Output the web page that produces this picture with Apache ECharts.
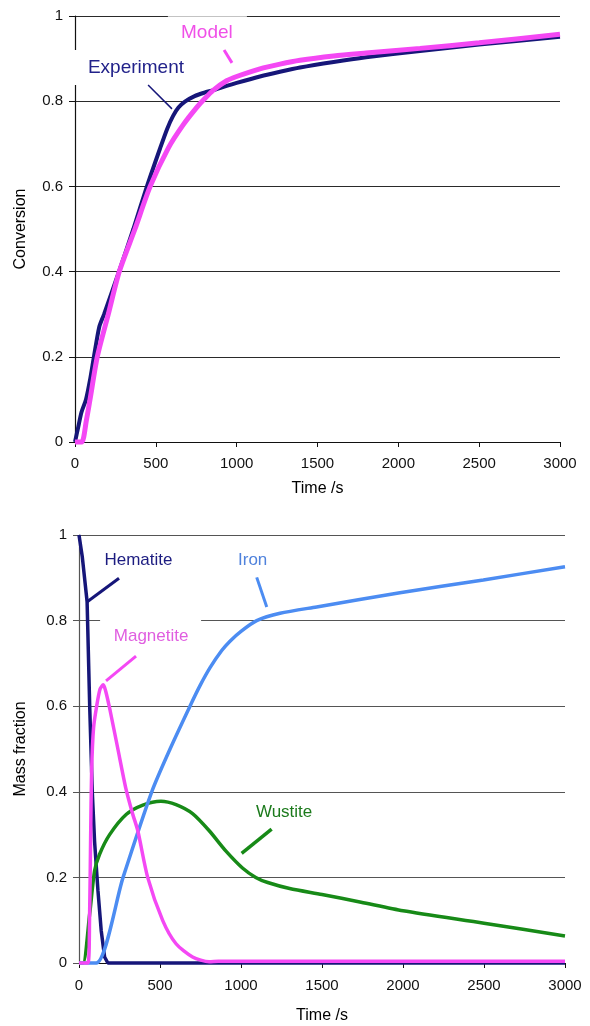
<!DOCTYPE html>
<html><head><meta charset="utf-8">
<script src="https://cdn.jsdelivr.net/npm/echarts@6/dist/echarts.min.js"></script>
<style>html,body{margin:0;padding:0;background:#fff}#c{width:590px;height:1026px}</style>
</head><body><div id="c"></div>
<script>
// ---- data ----
const timeTicks = [0, 500, 1000, 1500, 2000, 2500, 3000];
const fracTicks = [0, 0.2, 0.4, 0.6, 0.8, 1];

const expTime = [0, 20, 40, 68, 95, 117, 150, 180, 272, 361, 445, 526, 570, 606, 640, 680, 740, 800, 856, 938, 1000, 1144, 1268, 1392, 1600, 1800, 2134, 2500, 3000];
const expConv = [0, 0.035, 0.07, 0.1, 0.15, 0.2, 0.27, 0.3, 0.4, 0.5, 0.6, 0.689, 0.735, 0.765, 0.785, 0.799, 0.812, 0.82, 0.826, 0.836, 0.843, 0.858, 0.869, 0.879, 0.892, 0.903, 0.918, 0.933, 0.951];

const modelTime = [0, 41, 70, 93, 138, 206, 274, 371, 465, 577, 670, 752, 800, 856, 938, 1000, 1144, 1268, 1392, 1600, 1800, 2134, 2500, 3000];
const modelConv = [0, 0, 0.05, 0.1, 0.2, 0.3, 0.4, 0.5, 0.6, 0.69, 0.745, 0.785, 0.805, 0.826, 0.848, 0.858, 0.876, 0.887, 0.896, 0.906, 0.913, 0.924, 0.937, 0.957];

const hematiteTime = [0, 20, 50, 66, 82, 96, 117, 137, 158, 178, 3000];
const hematiteFrac = [1, 0.95, 0.844, 0.6, 0.4, 0.285, 0.169, 0.076, 0.014, 0, 0];

const magnetiteTime = [0, 55, 65, 72, 78, 90, 109, 130, 150, 165, 192, 240, 288, 330, 363, 424, 517, 599, 701, 804, 860, 3000];
const magnetiteFrac = [0, 0, 0.1, 0.3, 0.45, 0.55, 0.6, 0.64, 0.65, 0.635, 0.59, 0.5, 0.41, 0.35, 0.309, 0.2, 0.099, 0.045, 0.014, 0.003, 0.004, 0.004];

const wustiteTime = [0, 25, 66, 96, 127, 189, 291, 394, 506, 599, 701, 804, 906, 1009, 1091, 1165, 1300, 1500, 1741, 2000, 2500, 3000];
const wustiteFrac = [0, 0, 0.115, 0.215, 0.254, 0.3, 0.347, 0.369, 0.378, 0.37, 0.349, 0.309, 0.262, 0.222, 0.2, 0.188, 0.174, 0.16, 0.142, 0.122, 0.093, 0.063];

const ironTime = [0, 107, 272, 449, 562, 685, 747, 809, 881, 932, 1000, 1097, 1241, 1467, 1981, 2496, 3000];
const ironFrac = [0, 0, 0.2, 0.4, 0.5, 0.6, 0.648, 0.69, 0.73, 0.752, 0.775, 0.8, 0.817, 0.832, 0.865, 0.895, 0.926];

// ---- chart ----
const FONT = '"Liberation Sans", Arial, sans-serif';
const C = {navy:'#161679', magenta:'#f448f4', blue:'#4c8cf2', green:'#178a17'};
function zip(a, b) { return a.map((t, i) => [t, b[i]]); }

const chart = echarts.init(document.getElementById('c'));

function xAxisCfg(gi, gap, margin) {
  return {
    type: 'value', gridIndex: gi,
    min: timeTicks[0], max: timeTicks[timeTicks.length - 1], interval: timeTicks[1] - timeTicks[0],
    name: 'Time /s', nameLocation: 'middle', nameGap: gap,
    nameTextStyle: {fontSize: 16, color: '#000', fontFamily: FONT},
    axisLine: {show: true, onZero: false, lineStyle: {color: '#111', width: 1.2}},
    axisTick: {show: true, length: 5, lineStyle: {color: '#111'}},
    axisLabel: {fontSize: 15, color: '#111', margin: margin, fontFamily: FONT, formatter: v => String(v)},
    splitLine: {show: false}
  };
}
function yAxisCfg(gi, name, gap, gridColor, axisColor) {
  return {
    type: 'value', gridIndex: gi,
    min: fracTicks[0], max: fracTicks[fracTicks.length - 1], interval: fracTicks[1] - fracTicks[0],
    name: name, nameLocation: 'middle', nameGap: gap,
    nameTextStyle: {fontSize: 16, color: '#000', fontFamily: FONT},
    axisLine: {show: true, lineStyle: {color: axisColor, width: 1.2}},
    axisTick: {show: true, length: 6, lineStyle: {color: axisColor}},
    axisLabel: {fontSize: 15, color: '#111', margin: 12, fontFamily: FONT},
    splitLine: {show: true, lineStyle: {color: gridColor, width: 1.2}}
  };
}
function lineSeries(xi, data, color, width, smooth) {
  return {
    type: 'line', xAxisIndex: xi, yAxisIndex: xi, data: data,
    showSymbol: false, symbol: 'none', clip: false,
    smooth: smooth,
    lineStyle: {color: color, width: width}, itemStyle: {color: color}
  };
}

chart.setOption({
  animation: false,
  backgroundColor: '#fff',
  textStyle: {fontFamily: FONT},
  grid: [
    {left: 75, right: 30, top: 16, height: 426},
    {left: 79, right: 25, top: 535, height: 428}
  ],
  xAxis: [xAxisCfg(0, 39, 14), xAxisCfg(1, 45, 15)],
  yAxis: [yAxisCfg(0, 'Conversion', 46, '#2a2a2a', '#111'), yAxisCfg(1, 'Mass fraction', 50, '#555', '#555')],
  series: [
    lineSeries(0, zip(expTime, expConv), C.navy, 4, 0.25),
    lineSeries(0, zip(modelTime, modelConv), C.magenta, 5, 0.25),
    lineSeries(1, zip(hematiteTime, hematiteFrac), C.navy, 3.5, false),
    lineSeries(1, zip(wustiteTime, wustiteFrac), C.green, 3.5, 0.25),
    lineSeries(1, zip(ironTime, ironFrac), C.blue, 3.5, 0.25),
    lineSeries(1, zip(magnetiteTime, magnetiteFrac), C.magenta, 3.5, 0.25)
  ]
});

// ---- annotations (anchored in data coordinates) ----
const labels = [
  {g: 0, text: 'Model', at: [816, 0.960], color: '#f050e8', size: 19, mask: [-39, -19, 79, 30], maskFill: 'rgba(255,255,255,0.72)'},
  {g: 0, text: 'Experiment', at: [377, 0.878], color: '#22228a', size: 19, mask: [-66, -18, 122, 35], maskFill: '#fff'},
  {g: 1, text: 'Hematite', at: [367, 0.942], color: '#1c1c80', size: 17},
  {g: 1, text: 'Magnetite', at: [445, 0.764], color: '#e05ee0', size: 17, mask: [-51, -19, 101, 31], maskFill: '#fff'},
  {g: 1, text: 'Iron', at: [1072, 0.942], color: '#4f82dc', size: 17},
  {g: 1, text: 'Wustite', at: [1266, 0.351], color: '#1c7a1c', size: 17}
];
const pointers = [
  {g: 0, from: [922, 0.920], to: [971, 0.890], color: C.magenta, w: 3},
  {g: 0, from: [452, 0.838], to: [600, 0.782], color: C.navy, w: 1.5},
  {g: 1, from: [51, 0.844], to: [247, 0.899], color: C.navy, w: 3},
  {g: 1, from: [167, 0.659], to: [352, 0.717], color: C.magenta, w: 3},
  {g: 1, from: [1097, 0.901], to: [1159, 0.832], color: C.blue, w: 3},
  {g: 1, from: [1189, 0.313], to: [1004, 0.256], color: C.green, w: 3.5}
];
const els = [];
labels.forEach(l => {
  const p = chart.convertToPixel({gridIndex: l.g}, l.at);
  if (l.mask) {
    els.push({type: 'rect', z: 3, shape: {x: p[0] + l.mask[0], y: p[1] + l.mask[1], width: l.mask[2], height: l.mask[3]}, style: {fill: l.maskFill}});
  }
  els.push({type: 'text', z: 10, x: p[0], y: p[1], style: {text: l.text, fill: l.color, fontSize: l.size, fontFamily: FONT, align: 'center', verticalAlign: 'middle'}});
});
pointers.forEach(q => {
  const a = chart.convertToPixel({gridIndex: q.g}, q.from);
  const b = chart.convertToPixel({gridIndex: q.g}, q.to);
  els.push({type: 'line', z: 10, shape: {x1: a[0], y1: a[1], x2: b[0], y2: b[1]}, style: {stroke: q.color, lineWidth: q.w}});
});
chart.setOption({graphic: els});
</script>
</body></html>
